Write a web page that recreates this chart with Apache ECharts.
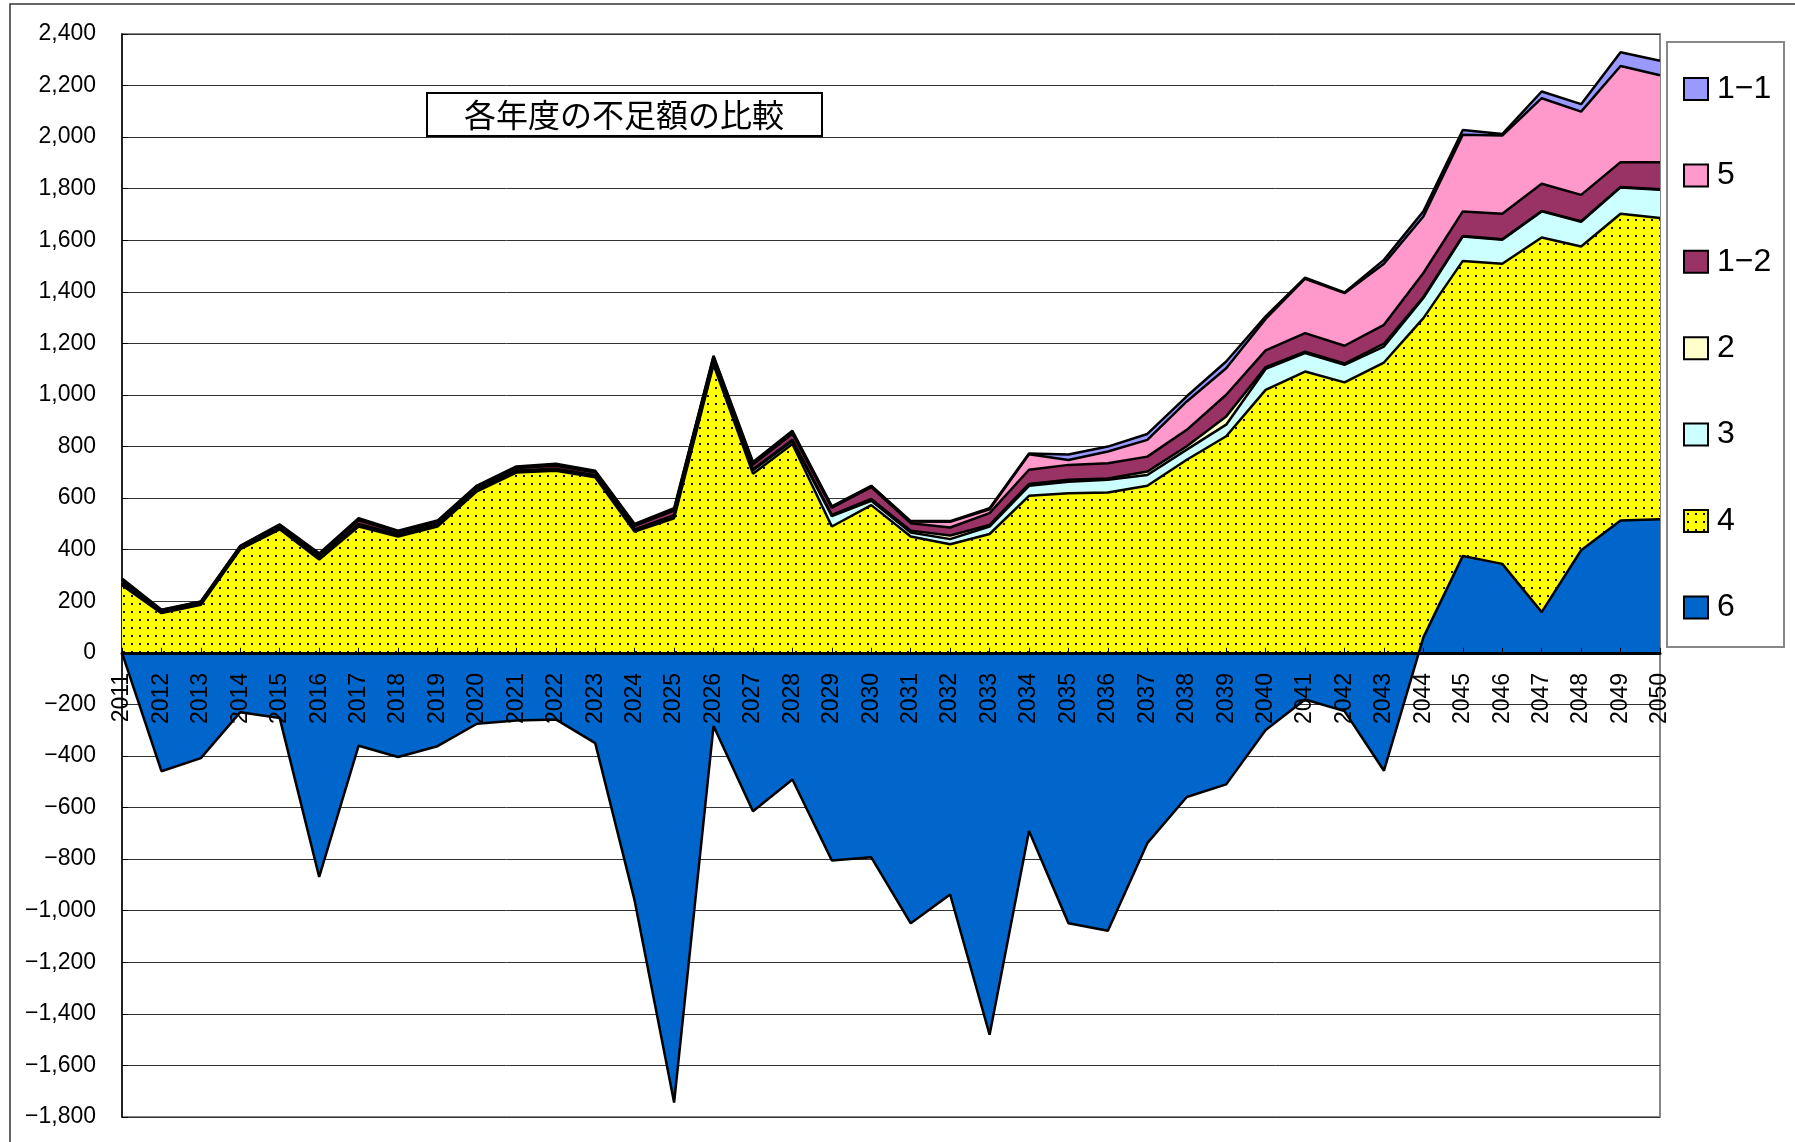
<!doctype html>
<html>
<head>
<meta charset="utf-8">
<title>各年度の不足額の比較</title>
<script src="https://cdn.jsdelivr.net/npm/echarts@6/dist/echarts.min.js"></script>
<style>
  html, body { margin: 0; padding: 0; background: #fff; }
  #main { width: 1795px; height: 1142px; }
</style>
</head>
<body>
<div id="main"></div>
<script>
var years = ['2011', '2012', '2013', '2014', '2015', '2016', '2017', '2018', '2019', '2020',
             '2021', '2022', '2023', '2024', '2025', '2026', '2027', '2028', '2029', '2030',
             '2031', '2032', '2033', '2034', '2035', '2036', '2037', '2038', '2039', '2040',
             '2041', '2042', '2043', '2044', '2045', '2046', '2047', '2048', '2049', '2050'];

// values per series, 2011 -> 2050
var s6  = [0, -459, -408, -230, -253, -869, -360, -404, -362, -275,
           -262, -258, -350, -961, -1744, -284, -614, -491, -805, -793,
           -1049, -937, -1481, -691, -1049, -1078, -738, -559, -510, -299,
           -181, -226, -457, 60, 376, 345, 158, 398, 513, 518];
var s4  = [262, 154, 186, 402, 479, 362, 490, 451, 490, 626,
           699, 706, 681, 470, 522, 1118, 695, 810, 490, 573,
           451, 421, 461, 609, 619, 622, 648, 749, 840, 1020,
           1091, 1049, 1126, 1238, 1144, 1164, 1453, 1178, 1190, 1168];
var s3  = [5, 3, 3, 3, 4, 5, 6, 5, 5, 5,
           5, 5, 5, 6, 8, 7, 13, 12, 40, 17,
           16, 20, 29, 39, 45, 49, 42, 39, 45, 81,
           72, 68, 62, 78, 95, 93, 101, 96, 102, 110];
var s2  = [3, 2, 2, 2, 3, 3, 4, 3, 3, 3,
           3, 3, 3, 3, 4, 4, 4, 4, 5, 7,
           7, 14, 6, 7, 7, 5, 13, 13, 32, 7,
           5, 5, 11, 4, 2, 2, 2, 2, 2, 2];
var s12 = [10, 5, 5, 5, 8, 10, 14, 9, 9, 9,
           10, 12, 10, 14, 18, 15, 18, 24, 28, 46,
           29, 31, 46, 55, 58, 59, 58, 64, 84, 65,
           72, 69, 73, 93, 95, 99, 105, 102, 96, 105];
var s5  = [4, 2, 2, 2, 2, 3, 4, 3, 3, 3,
           3, 4, 4, 4, 5, 4, 6, 6, 3, 3,
           6, 22, 15, 60, 19, 46, 65, 110, 103, 122,
           211, 204, 237, 219, 297, 303, 332, 323, 373, 337];
var s11 = [4, 1, 1, 1, 2, 3, 4, 3, 3, 3,
           3, 3, 3, 3, 4, 4, 4, 5, 2, 2,
           2, 3, 4, 3, 21, 19, 23, 20, 26, 10,
           4, 3, 15, 20, 19, 6, 26, 29, 53, 56];

var legendOrder = ['1−1', '5', '1−2', '2', '3', '4', '6'];

var numFont = 'Liberation Sans';

// yellow with black dots, like the excel 5% pattern
function dotPattern() {
    var c = document.createElement('canvas');
    c.width = 8;
    c.height = 8;
    var g = c.getContext('2d');
    g.fillStyle = '#ffff00';
    g.fillRect(0, 0, 8, 8);
    g.fillStyle = '#111';
    g.fillRect(3, 3, 2, 2);
    return c;
}
var yellowDots = { image: dotPattern(), repeat: 'repeat' };

var colors = {
    '1−1': '#9999ff',
    '5': '#ff99cc',
    '1−2': '#993366',
    '2': '#ffffcc',
    '3': '#ccffff',
    '4': yellowDots,
    '6': '#0066cc'
};

function area(name, values, stack, z) {
    return {
        name: name,
        type: 'line',
        stack: stack,
        data: values,
        symbol: 'none',
        z: z || 2,
        lineStyle: { color: '#000', width: 2.5 },
        itemStyle: { color: colors[name] },
        areaStyle: { color: colors[name], opacity: 1 },
        emphasis: { disabled: true }
    };
}

// positive stack sits on top of the positive part of series 6 (like excel does)
var s4top = s4.map(function (v, i) { return v + Math.max(s6[i], 0); });

function fmt(v) {
    var s = Math.abs(v).toString().replace(/\B(?=(\d{3})+(?!\d))/g, ',');
    return v < 0 ? '−' + s : s;
}

var chart = echarts.init(document.getElementById('main'));

var gridTop = 34, gridBottom = 25;
var plotH = 1142 - gridTop - gridBottom;
var zeroOffset = plotH * 1800 / 4200;   // distance from bottom edge to the 0 line

var option = {
    animation: false,
    backgroundColor: '#fff',
    textStyle: { fontFamily: numFont },
    grid: {
        left: 122, right: 135, top: gridTop, bottom: gridBottom,
        show: true, borderColor: '#888', borderWidth: 2
    },
    legend: {
        orient: 'vertical',
        left: 1683,
        top: 73,
        padding: 0,
        icon: 'rect',
        itemWidth: 24,
        itemHeight: 22,
        itemGap: 54.4,
        selectedMode: false,
        itemStyle: { borderColor: '#000', borderWidth: 2 },
        textStyle: { fontSize: 32, fontFamily: numFont, color: '#000', padding: [0, 0, 0, 4] },
        data: legendOrder.map(function (n) {
            return { name: n, itemStyle: { color: colors[n] } };
        })
    },
    xAxis: {
        type: 'category',
        data: years,
        boundaryGap: false,
        z: 10,
        offset: -zeroOffset,
        axisLine: { onZero: false, lineStyle: { color: '#000', width: 3 } },
        axisTick: { inside: true, length: 5, interval: 0, lineStyle: { color: '#000', width: 1 } },
        axisLabel: { rotate: 90, margin: 20, interval: 0, fontSize: 23, color: '#000' },
        splitLine: { show: false }
    },
    yAxis: {
        type: 'value',
        min: -1800,
        max: 2400,
        interval: 200,
        axisLine: { show: true, lineStyle: { color: '#000', width: 1.5 } },
        axisTick: { show: true, inside: true, length: 6, lineStyle: { color: '#000' } },
        axisLabel: { fontSize: 23, color: '#000', margin: 26, formatter: fmt },
        splitLine: { lineStyle: { color: '#333', width: 1 } }
    },
    graphic: [
        { type: 'rect', silent: true, z: 0,
          shape: { x: 10, y: 4, width: 1800, height: 1200 },
          style: { fill: 'none', stroke: '#333', lineWidth: 1.5 } },
        { type: 'rect', silent: true, z: 1,
          shape: { x: 1667, y: 42, width: 117, height: 605 },
          style: { fill: '#fff', stroke: '#888', lineWidth: 2 } },
        { type: 'rect', silent: true, z: 10,
          shape: { x: 427, y: 93, width: 395, height: 43 },
          style: { fill: '#fff', stroke: '#000', lineWidth: 2 } },
        { type: 'text', silent: true, z: 11, x: 624, y: 115,
          style: { text: '各年度の不足額の比較', fontSize: 32, fontFamily: 'Noto Sans CJK JP',
                   fill: '#000', align: 'center', verticalAlign: 'middle' } }
    ],
    series: [
        area('4', s4top, 'pos', 2),
        area('3', s3, 'pos', 2),
        area('2', s2, 'pos', 2),
        area('1−2', s12, 'pos', 2),
        area('5', s5, 'pos', 2),
        area('1−1', s11, 'pos', 2),
        area('6', s6, null, 3)
    ]
};

chart.setOption(option);
</script>
</body>
</html>
